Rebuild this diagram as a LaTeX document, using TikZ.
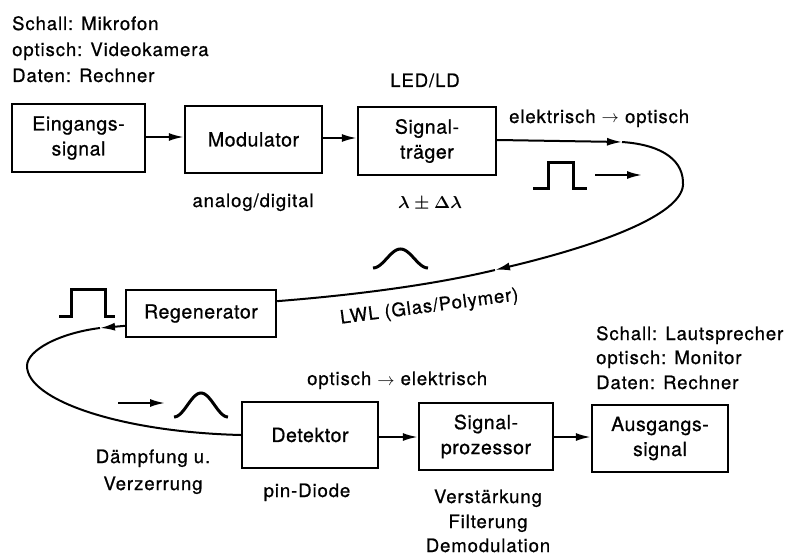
\documentclass[tikz,border=0pt]{standalone}
\usepackage{fontspec}
\setmainfont{TeX Gyre Heros}[LetterSpace=5,FakeBold=0.8]
\newfontfamily\bxfam{TeX Gyre Heros}[LetterSpace=3,FakeBold=0.8]
\usetikzlibrary{arrows.meta,calc}
\newcommand\mybxfont{\bxfam\fontsize{19.5}{25}\selectfont}
\newcommand\mylbfont{\fontsize{18.5}{24}\selectfont}
\tikzset{
  box/.style={draw, line width=2.4pt, align=center, inner sep=0pt, font=\mybxfont},
  lbl/.style={font=\mylbfont, inner sep=0pt},
  conn/.style={line width=2pt, -{Latex[length=15pt,width=8pt]}},
  wire/.style={line width=2pt},
  pulse/.style={line width=3pt, line join=miter}
}
\begin{document}
\begin{tikzpicture}[x=1pt,y=-1pt]
\useasboundingbox (0,0) rectangle (791,556);
% boxes
\node[box, minimum width=133pt, minimum height=68pt] (ein) at (78.5,138) {Eingangs-\\signal};
\node[box, minimum width=137pt, minimum height=67pt] (mod) at (253.5,139.5) {Modulator};
\node[box, minimum width=138pt, minimum height=68pt] (sig) at (427,141) {Signal-\\tr\"ager};
\node[box, minimum width=150pt, minimum height=47pt] (reg) at (201,313.5) {Regenerator};
\node[box, minimum width=136pt, minimum height=66pt] (det) at (310,435) {Detektor};
\node[box, minimum width=134pt, minimum height=67pt] (proc) at (486,436.5) {Signal-\\prozessor};
\node[box, minimum width=136pt, minimum height=67pt] (aus) at (660,438.5) {Ausgangs-\\signal};
% labels
\node[lbl, anchor=base west] (s1) at (12,30) {Schall: Mikrofon};
\node[lbl, anchor=base west] (s2) at (12,56) {optisch: Videokamera};
\node[lbl, anchor=base west] (s3) at (12,82) {Daten: Rechner};
\node[lbl, anchor=base] (led) at (425,87) {LED/LD};
\node[lbl, anchor=base west] (eo) at (509,123) {elektrisch $\rightarrow$ optisch};
\node[lbl, anchor=base] (ad) at (253,207) {analog/digital};
\node[lbl, anchor=base, font=\mylbfont\boldmath] (lam) at (430,208) {$\lambda \pm \Delta\lambda$};
\node[lbl, anchor=base, rotate=7.5] (lwl) at (430,312) {LWL (Glas/Polymer)};
\node[lbl, anchor=base west] (oe) at (307,385) {optisch $\rightarrow$ elektrisch};
\node[lbl, anchor=base] (d1) at (153,463) {D\"ampfung u.};
\node[lbl, anchor=base] (d2) at (153,490) {Verzerrung};
\node[lbl, anchor=base] (pin) at (307,497) {pin-Diode};
\node[lbl, anchor=base west] (r1) at (596,340) {Schall: Lautsprecher};
\node[lbl, anchor=base west] (r2) at (596,364) {optisch: Monitor};
\node[lbl, anchor=base west] (r3) at (596,389) {Daten: Rechner};
\node[lbl, anchor=base] (v1) at (488,503) {Verst\"arkung};
\node[lbl, anchor=base] (v2) at (488,528) {Filterung};
\node[lbl, anchor=base] (v3) at (488,552) {Demodulation};
% straight connectors
\draw[conn] (ein.east |- 0,137) -- (mod.west |- 0,137);
\draw[conn] (mod.east |- 0,138) -- (sig.west |- 0,138);
\draw[conn] (det.east |- 0,437) -- (proc.west |- 0,437);
\draw[conn] (proc.east |- 0,437) -- (aus.west |- 0,437);
% fibre loops
\coordinate (sigE) at (sig.east |- 0,140);
\coordinate (a1) at (622,142);
\coordinate (lp1) at (683,185);
\coordinate (a2) at (495,270);
\coordinate (regE) at ($(reg.north east)!0.25!(reg.south east)$);
\draw[conn] (sigE) -- (a1);
\draw[wire] (a1) .. controls (665,145) and (684,162) .. (lp1);
\draw[conn] (lp1) .. controls (681,215) and (600,245) .. (a2);
\draw[wire] (a2) .. controls (420,288) and (330,297) .. (regE);
\coordinate (regW) at ($(reg.north west)!0.75!(reg.south west)$);
\coordinate (b1) at (100,328);
\coordinate (lp2) at (27,366);
\draw[conn] (regW) -- (b1);
\draw[wire] (b1) .. controls (60,333) and (27,350) .. (lp2) .. controls (27,400) and (120,432) .. (det.west);
% small arrows
\coordinate (m1) at (595,175);
\coordinate (m2) at (642,175);
\draw[conn] (m1) -- (m2);
\coordinate (m3) at (118,403);
\coordinate (m4) at (165,403);
\draw[conn] (m3) -- (m4);
% pulses
\draw[pulse] (533,188) -- (548,188) -- (548,162) -- (573,162) -- (573,188) -- (587,188);
\draw[pulse] (59,316) -- (71,316) -- (71,289) -- (105,289) -- (105,316) -- (115,316);
\draw[pulse] plot[domain=-1:1, samples=41] ({400.5+27.5*\x},{268-19*(1+cos(180*\x))/2});
\draw[pulse] plot[domain=-1:1, samples=41] ({201+27*\x},{417-24*(1+cos(180*\x))/2});
\end{tikzpicture}
\end{document}
